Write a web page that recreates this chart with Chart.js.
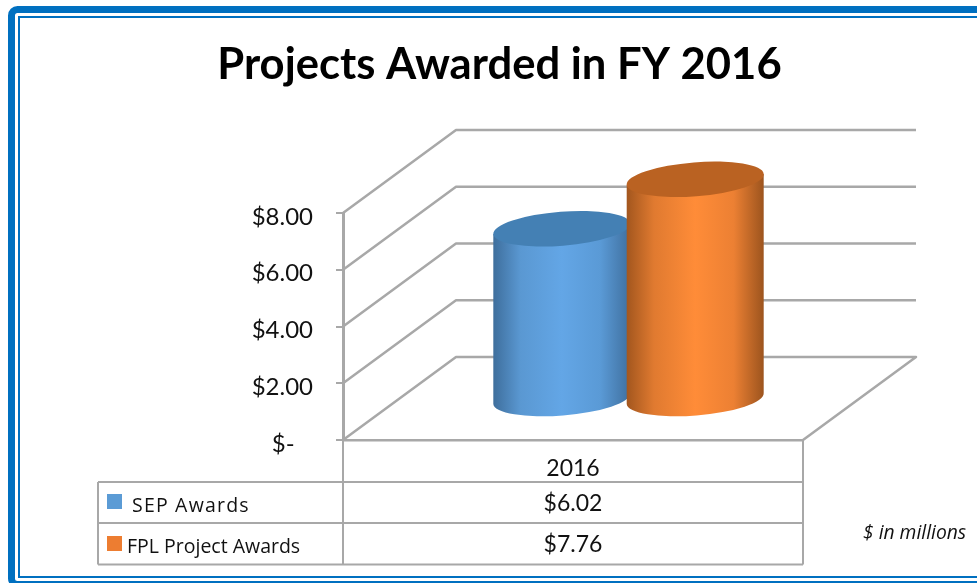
<!DOCTYPE html>
<html>
<head>
<meta charset="utf-8">
<style>html,body{margin:0;padding:0;background:#fff;overflow:hidden}canvas{display:block}</style>
<script src="https://cdn.jsdelivr.net/npm/chart.js@4/dist/chart.umd.min.js"></script>
</head>
<body>
<canvas id="c" width="977" height="583" style="width:977px;height:583px"></canvas>
<script>
const chartTitle = 'Projects Awarded in FY 2016';
const categories = ['2016'];
const sepAwards = [6.02];
const fplAwards = [7.76];
const seriesNames = ['SEP Awards', 'FPL Project Awards'];
const tickLabels = { 0: '$-   ', 2: '$2.00', 4: '$4.00', 6: '$6.00', 8: '$8.00' };
const unitNote = '$ in millions';

const GRID = '#a8a8a8', TEXT = '#111', FONT = 'Lato, Carlito, sans-serif';
const WALL = { dx: 113, dy: 83 }, BAR = { dx: 55.5, dy: 40.5, ry: 17, tilt: -4.5 * Math.PI / 180, widen: 1.03 };
const themes = [
  { swatch: '#5B9BD5', top: '#4480B4', stops: ['#3E6E9C', '#5A98D2', '#63A6E6', '#5A9AD6', '#3F6F9E'] },
  { swatch: '#ED7D31', top: '#BA6222', stops: ['#A2561E', '#E07A30', '#FF8C38', '#EC8033', '#9C541E'] }
];
const rowStyles = [
  { textX: 132, textY: 506, valueY: 504, swatchY: 494, spacing: '1.2px' },
  { textX: 127, textY: 547, valueY: 545, swatchY: 536, spacing: '0px' }
];

const scene = {
  id: 'scene',
  beforeDraw(chart) {
    const c = chart.ctx;
    c.save();
    c.fillStyle = '#fff'; c.fillRect(0, 0, 977, 583);
    c.strokeStyle = '#0070C0';
    c.lineWidth = 7;
    c.beginPath();
    c.roundRect(11.5, 9.5, 990, 575, 6);
    c.stroke();
    c.lineWidth = 2;
    c.strokeRect(19, 17, 990, 560);
    c.restore();
  },
  beforeDatasetsDraw(chart) {
    const c = chart.ctx, y = chart.scales.y, a = chart.chartArea;
    c.save();
    c.strokeStyle = GRID; c.lineWidth = 2.5; c.lineJoin = 'round';
    y.ticks.forEach(t => {
      const py = y.getPixelForValue(t.value);
      c.beginPath();
      c.moveTo(a.left, py);
      c.lineTo(a.left + WALL.dx, py - WALL.dy);
      c.lineTo(a.right + WALL.dx, py - WALL.dy);
      if (t.value === 0) c.lineTo(a.right, py);
      c.stroke();
    });
    c.restore();
  },
  afterDatasetsDraw(chart) {
    chart.data.datasets.forEach((ds, i) => {
      const el = chart.getDatasetMeta(i).data[0];
      drawCylinder(chart.ctx, el.x + BAR.dx, el.y - BAR.dy, el.base - BAR.dy, el.width / 2 * BAR.widen, themes[i]);
    });
    drawTable(chart);
  }
};

function drawCylinder(c, cx, top, base, rx, t) {
  const sx = Math.cos(BAR.tilt) * rx, sy = Math.sin(BAR.tilt) * rx;
  c.save();
  const g = c.createLinearGradient(cx - rx, 0, cx + rx, 0);
  [0, .2, .5, .78, 1].forEach((p, i) => g.addColorStop(p, t.stops[i]));
  c.fillStyle = g;
  c.beginPath();
  c.moveTo(cx - sx, top - sy);
  c.lineTo(cx - sx, base - sy);
  c.ellipse(cx, base, rx, BAR.ry, BAR.tilt, Math.PI, 0, true);
  c.lineTo(cx + sx, top + sy);
  c.closePath();
  c.fill();
  c.fillStyle = t.top;
  c.beginPath();
  c.ellipse(cx, top, rx, BAR.ry, BAR.tilt, 0, Math.PI * 2);
  c.fill();
  c.restore();
}

function drawTable(chart) {
  const c = chart.ctx, a = chart.chartArea;
  const L = 98, T = 482, R1 = 523, B = 564.5;
  c.save();
  c.strokeStyle = GRID; c.lineWidth = 2;
  c.beginPath();
  c.moveTo(L, T); c.lineTo(a.right, T);
  c.moveTo(L, R1); c.lineTo(a.right, R1);
  c.moveTo(L, B); c.lineTo(a.right, B);
  c.moveTo(L, T); c.lineTo(L, B);
  c.moveTo(a.left, a.bottom); c.lineTo(a.left, B);
  c.moveTo(a.right, a.bottom); c.lineTo(a.right, B);
  c.stroke();
  c.textBaseline = 'middle';
  const values = [sepAwards[0], fplAwards[0]];
  const centre = chart.scales.x.getPixelForValue(0);
  rowStyles.forEach((r, i) => {
    c.fillStyle = themes[i].swatch;
    c.fillRect(107, r.swatchY, 15, 15);
    c.fillStyle = TEXT;
    c.textAlign = 'left';
    c.font = '19.5px "Open Sans", sans-serif';
    c.letterSpacing = r.spacing;
    c.fillText(seriesNames[i], r.textX, r.textY);
    c.letterSpacing = '0px';
    c.textAlign = 'center';
    c.font = '23px ' + FONT;
    c.fillText('$' + values[i].toFixed(2), centre, r.valueY);
  });
  c.textAlign = 'left';
  c.font = 'italic 19.3px "Open Sans", sans-serif';
  c.fillText(unitNote, 863, 534);
  c.restore();
}

new Chart(document.getElementById('c'), {
  type: 'bar',
  data: {
    labels: categories,
    datasets: [
      { label: seriesNames[0], data: sepAwards, backgroundColor: 'rgba(0,0,0,0)', borderWidth: 0 },
      { label: seriesNames[1], data: fplAwards, backgroundColor: 'rgba(0,0,0,0)', borderWidth: 0 }
    ]
  },
  plugins: [scene],
  options: {
    responsive: false,
    animation: false,
    categoryPercentage: 0.58,
    barPercentage: 1,
    layout: { padding: { left: 22, right: 0, top: 0, bottom: 0 } },
    plugins: {
      legend: { display: false },
      tooltip: { enabled: false },
      title: {
        display: true,
        text: chartTitle,
        color: '#000',
        font: { family: FONT, size: 43.6, weight: 'bold', lineHeight: 1.2 },
        padding: { top: 39, bottom: 121.7 }
      }
    },
    scales: {
      x: {
        offset: true,
        grid: { display: false },
        border: { display: true, color: GRID, width: 2.5 },
        ticks: { color: TEXT, font: { family: FONT, size: 23 }, padding: 7, maxRotation: 0 },
        afterFit(s) { s.height = 143; }
      },
      y: {
        min: 0, max: 8,
        grid: { drawOnChartArea: false, drawTicks: true, tickLength: 7, color: GRID, lineWidth: 2 },
        border: { display: true, color: GRID, width: 3 },
        ticks: { stepSize: 2, color: TEXT, font: { family: FONT, size: 24, lineHeight: '8px' }, padding: 23,
                 callback: v => ['', tickLabels[v]] },
        afterFit(s) { s.width = 321; }
      },
      gutter: {
        position: 'right',
        display: true,
        grid: { display: false },
        border: { display: false },
        ticks: { display: false },
        afterFit(s) { s.width = 174; }
      }
    }
  }
});
</script>
</body>
</html>
